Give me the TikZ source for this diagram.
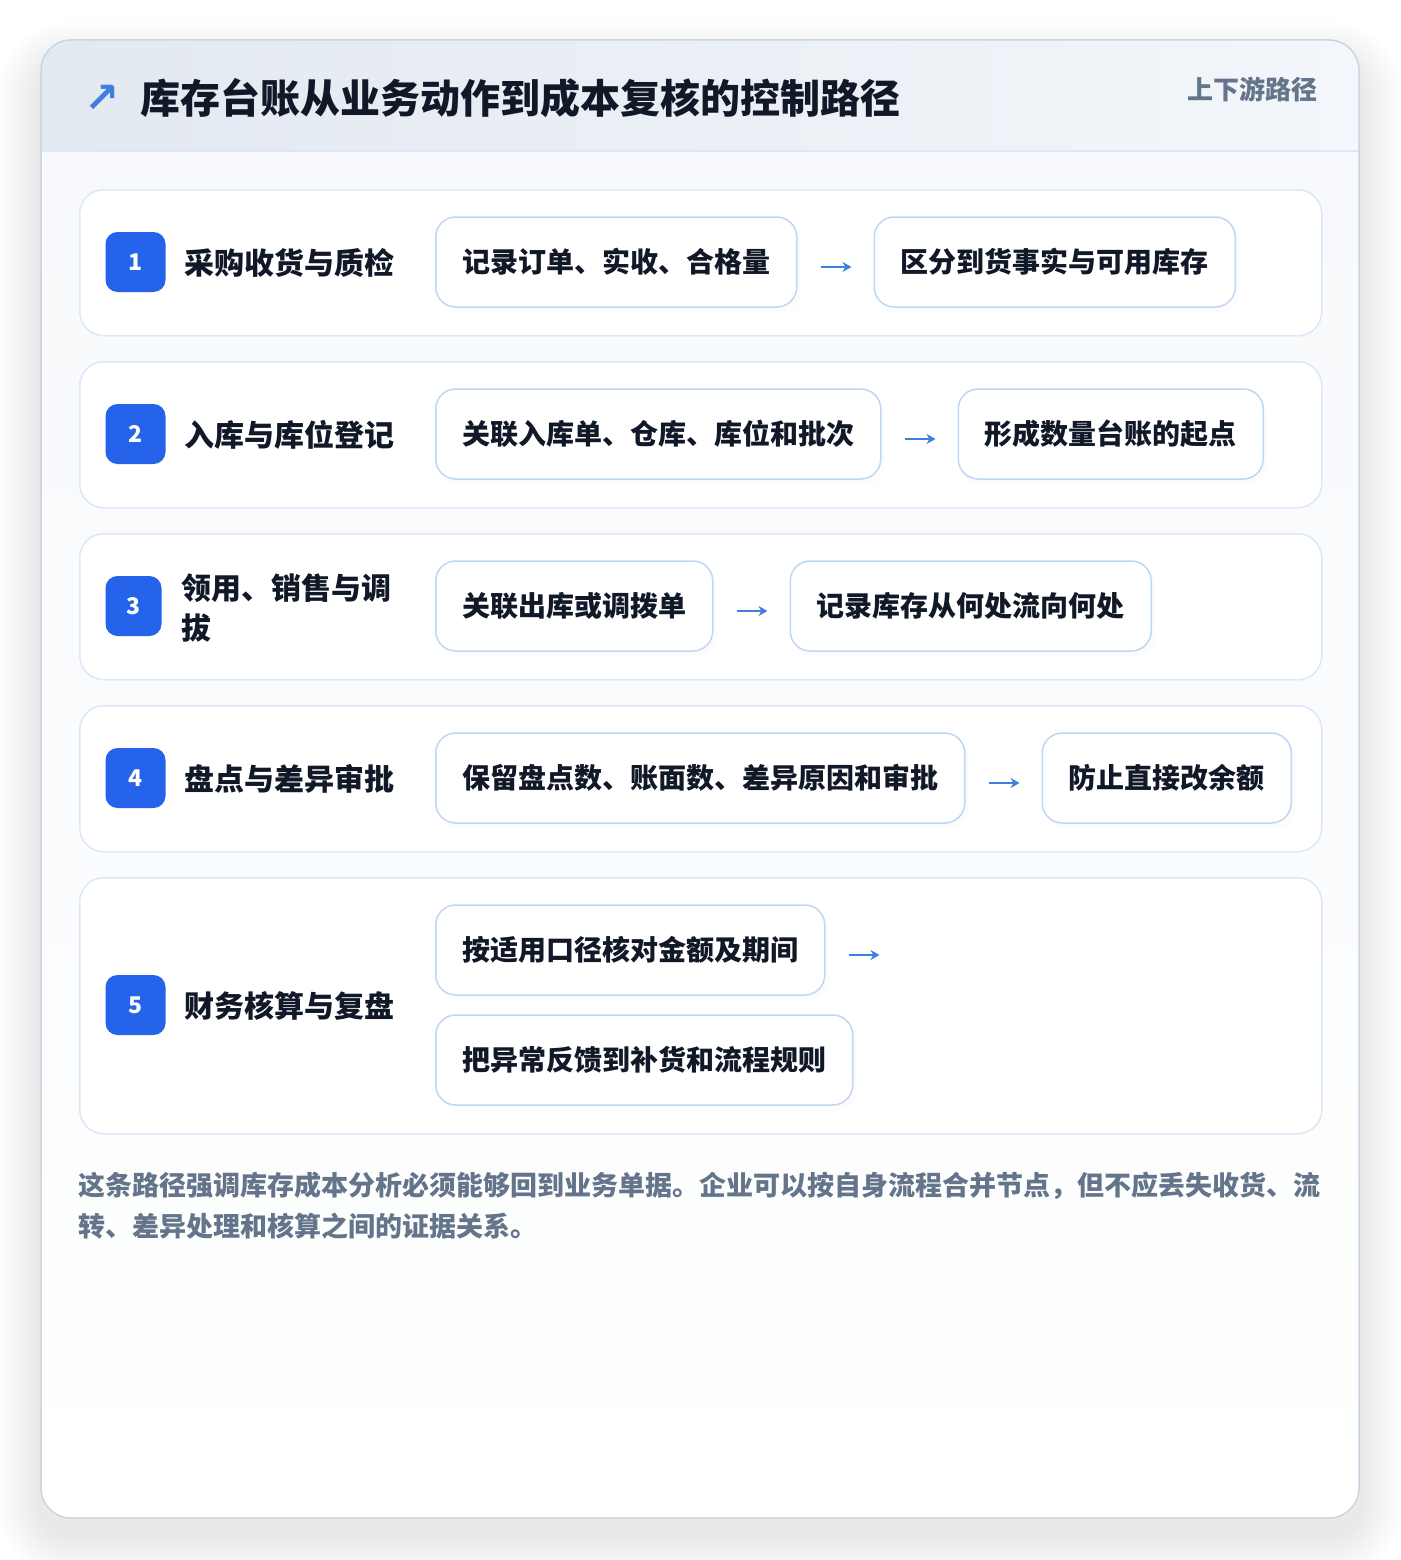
\documentclass[tikz,border=0pt]{standalone}
\usepackage{fontspec}
\newfontfamily\cjk{Noto Sans CJK SC}
\newfontfamily\sym{DejaVu Sans}
\usetikzlibrary{shadows,arrows.meta,calc}
\definecolor{cardborder}{HTML}{CBD5E1}
\definecolor{rowborder}{HTML}{DCE8F8}
\definecolor{boxborder}{HTML}{BFD6F4}
\definecolor{badgec}{HTML}{2563EB}
\definecolor{ink}{HTML}{111827}
\definecolor{muted}{HTML}{64748B}
\definecolor{arrowc}{HTML}{3F7FDF}
\definecolor{headL}{HTML}{E3E9F1}
\definecolor{headR}{HTML}{F3F6FA}
\definecolor{bodyT}{HTML}{F7F9FC}
\tikzset{
  rowbox/.style={draw=rowborder, line width=1.5pt, fill=white, rounded corners=24pt,
    minimum width=1242pt, minimum height=146pt, anchor=north west, inner sep=0pt},
  badgebox/.style={fill=badgec, rounded corners=12pt, minimum width=60pt, minimum height=60pt,
    inner sep=0pt, text=white, font=\cjk\bfseries\fontsize{23}{23}\selectfont},
  lab/.style={anchor=west, inner sep=0pt, text=ink, font=\cjk\bfseries\fontsize{30}{40}\selectfont},
  stepbox/.style={draw=boxborder, line width=1.5pt, fill=white, rounded corners=20pt,
    minimum height=90pt, inner xsep=26.5pt, inner ysep=0pt, anchor=west, text=ink,
    font=\cjk\bfseries\fontsize{28}{28}\selectfont,
    drop shadow={opacity=0.025, shadow xshift=4pt, shadow yshift=-6pt}},
  flow/.style={draw=arrowc, line width=2.6pt, -{Stealth[length=9pt,width=10pt]}},
}
\begin{document}
\begin{tikzpicture}[x=1pt,y=-1pt]
\useasboundingbox (0,0) rectangle (1400,1560);
\fill[white] (0,0) rectangle (1400,1560);
% card shadow
\foreach \i in {2,4,...,44}{
  \fill[black, opacity=0.0035, rounded corners=30+\i] (41-\i,64-\i) rectangle (1359+\i,1536+\i);
}
% card
\fill[white, rounded corners=30pt] (41,40) rectangle (1359,1518);
\begin{scope}
  \clip[rounded corners=30pt] (41,40) rectangle (1359,1518);
  \shade[top color=bodyT, bottom color=white] (41,151) rectangle (1359,1518);
  \shade[left color=headL, right color=headR] (41,40) rectangle (1359,151);
\end{scope}
\draw[rowborder, line width=2pt] (41,151) -- (1359,151);
\draw[cardborder, line width=1.5pt, rounded corners=30pt] (41,40) rectangle (1359,1518);

% header
\node[anchor=center, inner sep=0pt, text=arrowc, font=\sym\bfseries\fontsize{42}{42}\selectfont] (icon) at (102,99) {↗};
\node[anchor=west, inner sep=0pt, text=ink, font=\cjk\bfseries\fontsize{40}{40}\selectfont] (title) at (140,98) {库存台账从业务动作到成本复核的控制路径};
\node[anchor=east, inner sep=0pt, text=muted, font=\cjk\bfseries\fontsize{26}{26}\selectfont] (tag) at (1318,89) {上下游路径};

% rows
\node[rowbox] (r1) at (79,189) {};
\node[rowbox] (r2) at (79,361) {};
\node[rowbox] (r3) at (79,533) {};
\node[rowbox] (r4) at (79,705) {};
\node[rowbox, minimum height=256pt] (r5) at (79,877) {};

% row 1
\node[badgebox] (b1) at (135.5,262) {1};
\node[lab] (l1) at (184,263) {采购收货与质检};
\node[stepbox] (a1) at (435,262) {记录订单、实收、合格量};
\node[stepbox] (c1) at ($(a1.east)+(76,0)$) {区分到货事实与可用库存};
\draw[flow] ($(a1.east)+(23,5)$) -- ($(c1.west)+(-22,5)$);

% row 2
\node[badgebox] (b2) at (135.5,434) {2};
\node[lab] (l2) at (184,435) {入库与库位登记};
\node[stepbox] (a2) at (435,434) {关联入库单、仓库、库位和批次};
\node[stepbox] (c2) at ($(a2.east)+(76,0)$) {形成数量台账的起点};
\draw[flow] ($(a2.east)+(23,5)$) -- ($(c2.west)+(-22,5)$);

% row 3
\node[badgebox, minimum width=56pt] (b3) at (133.5,606) {3};
\node[lab, align=left] (l3) at (181,608) {领用、销售与调\\拔};
\node[stepbox] (a3) at (435,606) {关联出库或调拨单};
\node[stepbox] (c3) at ($(a3.east)+(76,0)$) {记录库存从何处流向何处};
\draw[flow] ($(a3.east)+(23,5)$) -- ($(c3.west)+(-22,5)$);

% row 4
\node[badgebox] (b4) at (135.5,778) {4};
\node[lab] (l4) at (184,779) {盘点与差异审批};
\node[stepbox] (a4) at (435,778) {保留盘点数、账面数、差异原因和审批};
\node[stepbox] (c4) at ($(a4.east)+(76,0)$) {防止直接改余额};
\draw[flow] ($(a4.east)+(23,5)$) -- ($(c4.west)+(-22,5)$);

% row 5
\node[badgebox] (b5) at (135.5,1005) {5};
\node[lab] (l5) at (184,1006) {财务核算与复盘};
\node[stepbox] (a5) at (435,950) {按适用口径核对金额及期间};
\node[stepbox] (d5) at (435,1060) {把异常反馈到补货和流程规则};
\coordinate (e5) at ($(a5.east)+(54,5)$);
\draw[flow] ($(a5.east)+(23,5)$) -- (e5);

% footer
\node[anchor=north west, inner sep=0pt, align=left, text=muted,
  font=\cjk\bfseries\fontsize{27}{41}\selectfont] (note) at (78,1172)
  {这条路径强调库存成本分析必须能够回到业务单据。企业可以按自身流程合并节点，但不应丢失收货、流\\转、差异处理和核算之间的证据关系。};
\end{tikzpicture}
\end{document}
